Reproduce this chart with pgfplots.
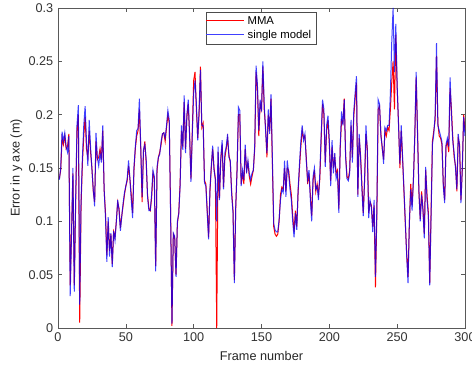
\documentclass[border=0pt]{standalone}
\usepackage{pgfplots}
\pgfplotsset{compat=1.18}
\usepackage{pgfplotstable}
\usepackage{fontspec}
\setmainfont{Liberation Sans}
\pgfplotstableread{
f mma single
1 0.140 0.139
2 0.148 0.150
3 0.178 0.184
4 0.172 0.175
5 0.180 0.183
6 0.168 0.170
7 0.170 0.165
8 0.182 0.180
9 0.040 0.030
10 0.090 0.090
11 0.145 0.150
12 0.040 0.034
13 0.115 0.120
14 0.185 0.190
15 0.200 0.209
16 0.005 0.022
17 0.115 0.120
18 0.155 0.160
19 0.180 0.190
20 0.198 0.208
21 0.168 0.175
22 0.160 0.152
23 0.185 0.195
24 0.165 0.170
25 0.150 0.149
26 0.128 0.130
27 0.118 0.114
28 0.175 0.183
29 0.158 0.160
30 0.160 0.152
31 0.168 0.164
32 0.158 0.155
33 0.185 0.190
34 0.130 0.130
35 0.108 0.104
36 0.068 0.062
37 0.100 0.104
38 0.072 0.067
39 0.088 0.089
40 0.060 0.057
41 0.090 0.091
42 0.085 0.082
43 0.100 0.100
44 0.118 0.120
45 0.112 0.110
46 0.094 0.091
47 0.105 0.105
48 0.115 0.117
49 0.125 0.127
50 0.133 0.133
51 0.138 0.140
52 0.152 0.157
53 0.140 0.140
54 0.125 0.120
55 0.108 0.103
56 0.148 0.151
57 0.168 0.170
58 0.180 0.185
59 0.185 0.187
60 0.205 0.215
61 0.168 0.170
62 0.118 0.123
63 0.165 0.167
64 0.175 0.172
65 0.155 0.158
66 0.125 0.123
67 0.112 0.110
68 0.110 0.110
69 0.122 0.125
70 0.145 0.148
71 0.140 0.142
72 0.058 0.053
73 0.148 0.151
74 0.160 0.160
75 0.165 0.163
76 0.172 0.175
77 0.182 0.182
78 0.183 0.183
79 0.175 0.178
80 0.188 0.190
81 0.200 0.204
82 0.192 0.195
83 0.110 0.106
84 0.002 0.004
85 0.088 0.089
86 0.085 0.086
87 0.050 0.048
88 0.098 0.100
89 0.108 0.107
90 0.135 0.133
91 0.185 0.190
92 0.170 0.167
93 0.212 0.218
94 0.168 0.164
95 0.198 0.200
96 0.210 0.214
97 0.182 0.180
98 0.140 0.137
99 0.185 0.182
100 0.232 0.220
101 0.240 0.232
102 0.205 0.210
103 0.178 0.176
104 0.200 0.205
105 0.245 0.242
106 0.188 0.190
107 0.192 0.190
108 0.138 0.136
109 0.135 0.133
110 0.110 0.108
111 0.085 0.083
112 0.128 0.130
113 0.150 0.152
114 0.168 0.171
115 0.150 0.148
116 0.140 0.139
117 0.000 0.100
118 0.165 0.170
119 0.122 0.120
120 0.158 0.160
121 0.172 0.176
122 0.132 0.130
123 0.160 0.164
124 0.168 0.170
125 0.178 0.182
126 0.162 0.160
127 0.155 0.157
128 0.128 0.125
129 0.110 0.108
130 0.045 0.042
131 0.112 0.114
132 0.150 0.148
133 0.200 0.207
134 0.200 0.204
135 0.135 0.133
136 0.145 0.148
137 0.135 0.139
138 0.168 0.172
139 0.148 0.145
140 0.155 0.157
141 0.142 0.145
142 0.135 0.139
143 0.142 0.145
144 0.148 0.148
145 0.168 0.171
146 0.240 0.246
147 0.225 0.228
148 0.180 0.185
149 0.210 0.214
150 0.205 0.203
151 0.245 0.250
152 0.205 0.210
153 0.188 0.185
154 0.160 0.164
155 0.200 0.205
156 0.185 0.182
157 0.215 0.219
158 0.155 0.160
159 0.095 0.098
160 0.088 0.092
161 0.086 0.090
162 0.088 0.090
163 0.100 0.102
164 0.125 0.120
165 0.132 0.130
166 0.130 0.127
167 0.150 0.157
168 0.128 0.123
169 0.150 0.157
170 0.148 0.145
171 0.135 0.130
172 0.125 0.120
173 0.105 0.100
174 0.090 0.085
175 0.110 0.108
176 0.095 0.092
177 0.128 0.130
178 0.150 0.154
179 0.170 0.175
180 0.185 0.190
181 0.178 0.176
182 0.180 0.182
183 0.160 0.157
184 0.135 0.139
185 0.145 0.148
186 0.125 0.120
187 0.105 0.100
188 0.138 0.142
189 0.148 0.150
190 0.128 0.130
191 0.135 0.133
192 0.125 0.120
193 0.140 0.145
194 0.178 0.182
195 0.210 0.214
196 0.200 0.205
197 0.155 0.151
198 0.185 0.190
199 0.195 0.199
200 0.172 0.176
201 0.138 0.133
202 0.170 0.176
203 0.150 0.145
204 0.160 0.164
205 0.145 0.140
206 0.148 0.145
207 0.112 0.108
208 0.168 0.170
209 0.195 0.203
210 0.192 0.190
211 0.215 0.214
212 0.162 0.160
213 0.142 0.140
214 0.140 0.138
215 0.148 0.145
216 0.190 0.195
217 0.160 0.155
218 0.198 0.203
219 0.215 0.220
220 0.230 0.236
221 0.125 0.123
222 0.178 0.182
223 0.162 0.160
224 0.135 0.130
225 0.108 0.105
226 0.138 0.140
227 0.182 0.190
228 0.168 0.165
229 0.108 0.103
230 0.118 0.120
231 0.115 0.113
232 0.095 0.090
233 0.115 0.120
234 0.038 0.048
235 0.105 0.110
236 0.205 0.214
237 0.208 0.210
238 0.182 0.180
239 0.168 0.170
240 0.158 0.154
241 0.185 0.188
242 0.180 0.185
243 0.188 0.190
244 0.185 0.190
245 0.205 0.220
246 0.230 0.268
247 0.250 0.300
248 0.205 0.240
249 0.275 0.285
250 0.225 0.227
251 0.192 0.190
252 0.150 0.154
253 0.185 0.190
254 0.158 0.160
255 0.128 0.130
256 0.098 0.100
257 0.070 0.068
258 0.048 0.042
259 0.098 0.100
260 0.135 0.130
261 0.115 0.110
262 0.140 0.139
263 0.180 0.182
264 0.235 0.240
265 0.185 0.182
266 0.128 0.130
267 0.102 0.100
268 0.128 0.125
269 0.112 0.110
270 0.088 0.084
271 0.148 0.151
272 0.125 0.120
273 0.108 0.105
274 0.042 0.040
275 0.110 0.105
276 0.175 0.172
277 0.185 0.182
278 0.195 0.200
279 0.255 0.267
280 0.192 0.190
281 0.180 0.185
282 0.178 0.180
283 0.172 0.175
284 0.135 0.133
285 0.120 0.117
286 0.170 0.172
287 0.175 0.178
288 0.165 0.170
289 0.225 0.235
290 0.205 0.200
291 0.178 0.175
292 0.160 0.164
293 0.152 0.150
294 0.128 0.130
295 0.178 0.182
296 0.172 0.170
297 0.120 0.117
298 0.148 0.150
299 0.200 0.198
300 0.185 0.180
}\datatab
\begin{document}
\begin{tikzpicture}
\begin{axis}[
  name=ax,
  scale only axis,
  width=305.25pt, height=240pt,
  xmin=0, xmax=300, ymin=0, ymax=0.3,
  xtick={0,50,...,300},
  ytick={0,0.05,0.1,0.15,0.2,0.25,0.3},
  yticklabels={0,0.05,0.1,0.15,0.2,0.25,0.3},
  tick align=inside,
  tick pos=both,
  major tick length=3pt,
  axis line style={black!65},
  every tick/.style={black!65},
  /pgf/number format/assume math mode=true,
  ticklabel style={font=\fontsize{9.5}{11}\selectfont, text=black!80},
  label style={font=\fontsize{9.5}{11}\selectfont, text=black!85},
  xlabel={Frame number},
  ylabel={Error in y axe (m)},
  ylabel style={yshift=-2pt},
  legend style={at={(0.5,0.9875)}, anchor=north, font=\fontsize{8.5}{10}\selectfont,
    draw=black!70, inner xsep=2pt, inner ysep=1pt, row sep=-1pt, cells={anchor=west},
    /tikz/every odd column/.style={column sep=-4pt}},
  legend image code/.code={},
]
\addplot[color=red, line width=0.75pt] table[x=f, y=mma] {\datatab};
\addlegendentry{\textcolor{red}{\rule[0.6ex]{0.98cm}{0.7pt}}\hspace{3pt}MMA}
\addplot[color=blue, line width=0.75pt, opacity=0.75] table[x=f, y=single] {\datatab};
\addlegendentry{\textcolor{blue!75!white}{\rule[0.6ex]{0.98cm}{0.7pt}}\hspace{3pt}single model}
\end{axis}
\pgfresetboundingbox
\path ([shift={(-43.5pt,-31.5pt)}]ax.south west) rectangle ([shift={(5.25pt,6pt)}]ax.north east);
\end{tikzpicture}
\end{document}
